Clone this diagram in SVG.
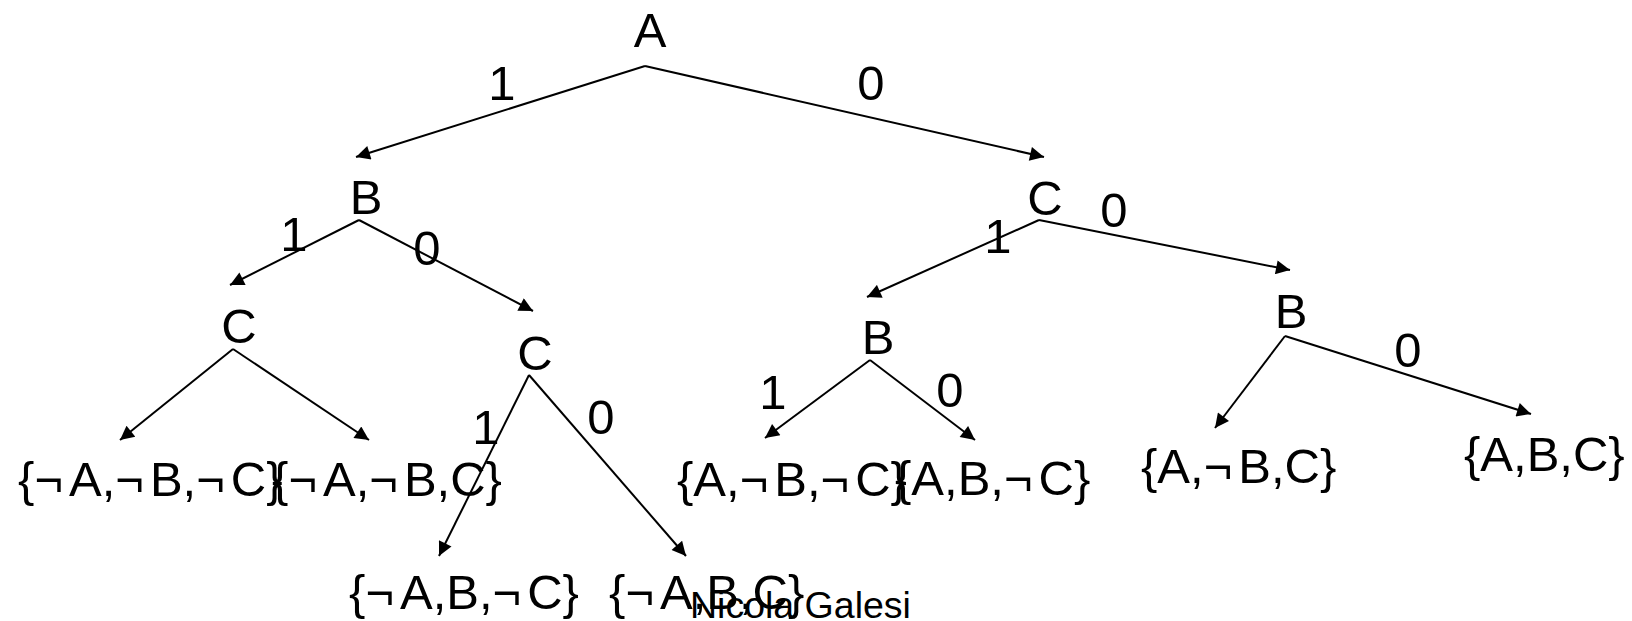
<svg xmlns="http://www.w3.org/2000/svg" width="1632" height="621" viewBox="0 0 1632 621">
<style>
.t{font-family:"Liberation Sans",Arial,sans-serif;font-size:49px;fill:#000}
.n{text-anchor:middle}
.ng{letter-spacing:6px}
.e{stroke:#000;stroke-width:2;fill:none;marker-end:url(#ah)}
.f{font-family:"Liberation Sans",Arial,sans-serif;font-size:37.5px;fill:#000}
</style>
<defs>
<marker id="ah" viewBox="0 0 10 10" refX="10" refY="5" markerWidth="8.5" markerHeight="7" markerUnits="strokeWidth" orient="auto">
<path d="M0,0 L10,5 L0,10 z" fill="#000"/>
</marker>
</defs>
<rect width="1632" height="621" fill="#fff"/>
<g id="connectors">
<line class="e" x1="645" y1="66" x2="356" y2="157"/>
<line class="e" x1="645" y1="66" x2="1044" y2="157"/>
<line class="e" x1="359" y1="220" x2="230" y2="285"/>
<line class="e" x1="359" y1="220" x2="533" y2="311"/>
<line class="e" x1="1039" y1="220" x2="867" y2="297"/>
<line class="e" x1="1039" y1="220" x2="1290" y2="270"/>
<line class="e" x1="233" y1="349" x2="120" y2="440"/>
<line class="e" x1="233" y1="349" x2="369" y2="440"/>
<line class="e" x1="529" y1="375" x2="439" y2="556"/>
<line class="e" x1="529" y1="375" x2="686" y2="556"/>
<line class="e" x1="870" y1="360" x2="765" y2="438"/>
<line class="e" x1="870" y1="360" x2="975" y2="440"/>
<line class="e" x1="1285" y1="336" x2="1215" y2="428"/>
<line class="e" x1="1285" y1="336" x2="1531" y2="414"/>
<text class="t n" x="502" y="100">1</text>
<text class="t n" x="871" y="100">0</text>
<text class="t n" x="294" y="251">1</text>
<text class="t n" x="427" y="265">0</text>
<text class="t n" x="998" y="253">1</text>
<text class="t n" x="1114" y="227">0</text>
<text class="t n" x="486" y="444">1</text>
<text class="t n" x="601" y="434">0</text>
<text class="t n" x="773" y="409">1</text>
<text class="t n" x="950" y="407">0</text>
<text class="t n" x="1408" y="367">0</text>
</g>
<g id="nA"><text class="t n" x="650" y="47">A</text></g>
<g id="nB1"><text class="t n" x="366" y="214">B</text></g>
<g id="nC1"><text class="t n" x="1045" y="215">C</text></g>
<g id="nC2"><text class="t n" x="239" y="343">C</text></g>
<g id="nC3"><text class="t n" x="535" y="370">C</text></g>
<g id="nB2"><text class="t n" x="878" y="354">B</text></g>
<g id="nB3"><text class="t n" x="1291" y="328">B</text></g>
<g id="l1"><text class="t" x="18" y="496">{<tspan class="ng">¬</tspan>A,<tspan class="ng">¬</tspan>B,<tspan class="ng">¬</tspan>C}</text></g>
<g id="l2"><text class="t" x="272" y="496">{<tspan class="ng">¬</tspan>A,<tspan class="ng">¬</tspan>B,C}</text></g>
<g id="l3"><text class="t" x="349" y="609">{<tspan class="ng">¬</tspan>A,B,<tspan class="ng">¬</tspan>C}</text></g>
<g id="l4"><text class="t" x="609" y="609">{<tspan class="ng">¬</tspan>A,B,C}</text></g>
<g id="l5"><text class="t" x="677" y="496">{A,<tspan class="ng">¬</tspan>B,<tspan class="ng">¬</tspan>C}</text></g>
<g id="l6"><text class="t" x="895" y="495">{A,B,<tspan class="ng">¬</tspan>C}</text></g>
<g id="l7"><text class="t" x="1141" y="483">{A,<tspan class="ng">¬</tspan>B,C}</text></g>
<g id="l8"><text class="t" x="1464" y="471">{A,B,C}</text></g>
<g id="footer"><text class="f" x="690" y="618">Nicola Galesi</text></g>
</svg>
